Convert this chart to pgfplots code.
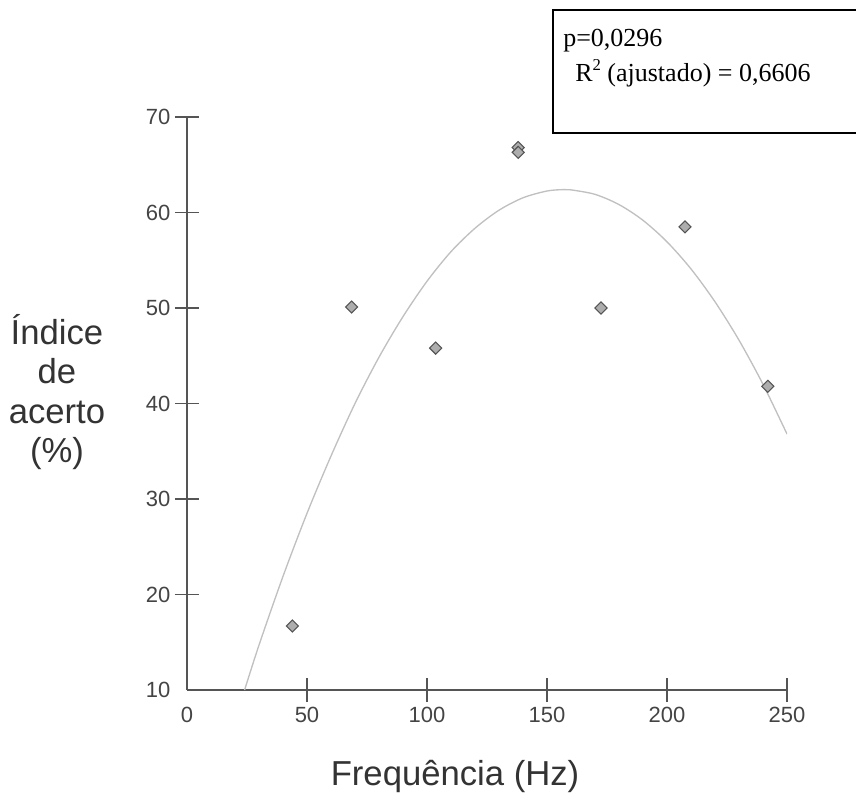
\documentclass[border=0pt]{standalone}
\usepackage{fontspec}
\setmainfont{Liberation Sans}
\newfontfamily\timesfont{Liberation Serif}
\usepackage{pgfplots}
\pgfplotsset{compat=1.18}
\definecolor{axisgray}{HTML}{555555}
\definecolor{labelgray}{HTML}{444444}
\definecolor{curvegray}{HTML}{C0C0C0}
\definecolor{markfill}{HTML}{ADADAD}

\begin{document}
\begin{tikzpicture}
\path[use as bounding box] (0,0) rectangle (642pt,594pt);
\begin{axis}[
    at={(140.25pt,76.5pt)}, anchor=south west,
    scale only axis,
    width=450pt, height=429.75pt,
    xmin=0, xmax=250, ymin=10, ymax=70,
    axis lines=left,
    axis line style={-, axisgray, line width=1pt},
    xtick={50,100,...,250},
    ytick={20,30,...,70},
    extra x ticks={0}, extra y ticks={10},
    extra tick style={major tick style={draw=none}},
    tick align=center,
    major tick length=18pt,
    tick style={axisgray, line width=1pt},
    ticklabel style={font=\fontsize{16.5}{19}\selectfont, text=labelgray},
    /pgf/number format/assume math mode=true,
    every axis x label/.style={at={(axis description cs:0.4467,-0.1675)}, anchor=base,
        font=\fontsize{26}{30}\selectfont, text=black!80},
    every axis y label/.style={at={(axis description cs:-0.2167,0.52)}, anchor=center,
        align=center, font=\fontsize{26}{29.6}\selectfont, text=black!80},
    xlabel={Frequência (Hz)},
    ylabel={Índice\\de\\acerto\\(\%)},
]
% fitted curve
\addplot[curvegray, line width=1pt, smooth, no marks] coordinates {
    (24,10.0) (30,14.7) (40,21.9) (50,28.5) (60,34.5) (70,40.0)
    (80,44.85) (90,49.1) (100,52.8) (110,55.9) (120,58.35) (130,60.24)
    (140,61.54) (150,62.25) (157,62.4) (160,62.37) (170,61.9) (180,60.83)
    (190,59.18) (200,56.93) (210,54.09) (220,50.65) (230,46.63) (240,42.01)
    (250,36.8)
};
\addplot[only marks, mark=square*, mark size=3.2pt,
    mark options={rotate=45, fill=markfill, draw=axisgray, line width=0.8pt}] coordinates {
    (43.9,16.7) (68.6,50.1) (103.6,45.8) (138,66.8) (138,66.3)
    (172.5,50.0) (207.5,58.5) (242,41.8)
};
\end{axis}
\draw[line width=1pt] (414.75pt,586.5pt) rectangle (660pt,494.25pt);
\node[anchor=base west, inner sep=0pt, font=\timesfont\fontsize{19.5}{23}\selectfont]
    at (422.25pt,558.75pt) {p=0,0296};
\node[anchor=base west, inner sep=0pt, font=\timesfont\fontsize{19.5}{23}\selectfont]
    at (431.25pt,532.5pt) {R\raisebox{8.5pt}{\fontsize{12.5}{13}\selectfont 2} (ajustado) = 0,6606};
\end{tikzpicture}
\end{document}
